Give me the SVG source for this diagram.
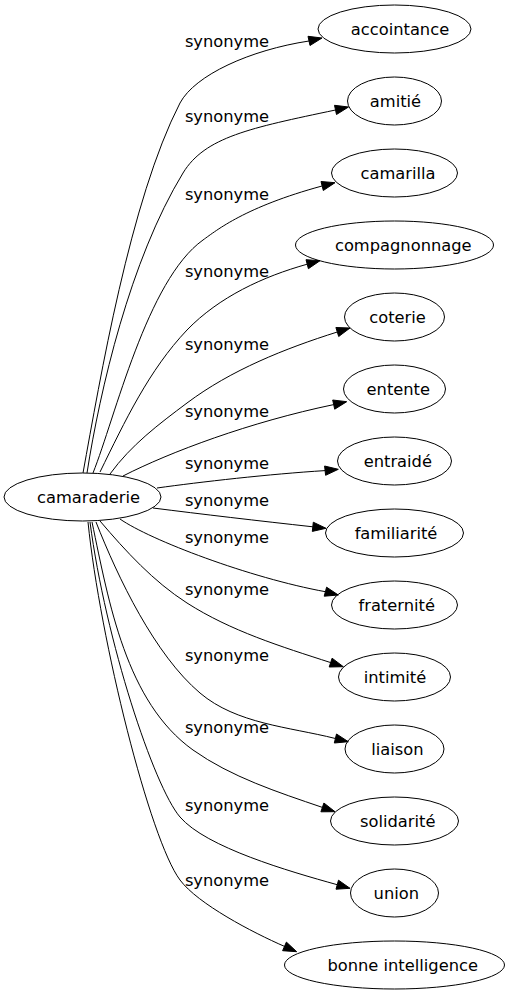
<svg xmlns="http://www.w3.org/2000/svg" width="510" height="995" viewBox="0 0 510 995">
<style>
.n ellipse{fill:none;stroke:#000;stroke-width:1}
text{font-family:"DejaVu Sans","Liberation Sans",sans-serif;font-size:16.3px;fill:#000;text-anchor:middle}
.e path{fill:none;stroke:#000;stroke-width:1}
.e polygon{fill:#000;stroke:#000;stroke-width:1}
</style>
<rect x="0" y="0" width="510" height="995" fill="#fff"/>
<g id="edges" class="e">
<path d="M83,473 C100,380 130,200 180,103 C195,75 250,50 309,41"/>
<polygon points="310,45.5 322,38 308,36.3"/>
<text x="227" y="46.7">synonyme</text>
<path d="M87,473 C100,390 130,260 183,173 C205,137 250,128 335.5,110"/>
<polygon points="336.5,114.5 348.5,107 334.5,105.3"/>
<text x="227" y="122.2">synonyme</text>
<path d="M93,473 C115,418 147,280 203,240 C217,230 245,207 322,186"/>
<polygon points="323.3,190.5 335,182.7 321,181.5"/>
<text x="227" y="199.5">synonyme</text>
<path d="M100,472 C125,421 149,370 187,330 C219,297 263,276.5 307.2,264.2"/>
<polygon points="308.4,268.7 320,260.7 306,259.7"/>
<text x="227" y="277">synonyme</text>
<path d="M110,474 C131,445 159,424 187,403 C231,370 285,348.5 337.3,332"/>
<polygon points="338.7,336.5 350,328 335.9,327.5"/>
<text x="227" y="350.3">synonyme</text>
<path d="M123,476 C170,452 250,422 333.7,404.6"/>
<polygon points="334.7,409.2 346.7,401.7 332.7,400"/>
<text x="227" y="417">synonyme</text>
<path d="M157,488 C200,482 270,474 325.1,470.6"/>
<polygon points="325.6,475.3 338.3,469.3 324.6,466"/>
<text x="227" y="468.8">synonyme</text>
<path d="M153,508 C200,514 260,521 312.8,526.8"/>
<polygon points="312.3,531.4 326,528.3 313.3,522.2"/>
<text x="227" y="505.8">synonyme</text>
<path d="M120,519 C150,540 250,578 325.4,591.7"/>
<polygon points="324.2,596.2 338.3,595 326.6,587.2"/>
<text x="227" y="543">synonyme</text>
<path d="M100,521 C126,551.5 153.3,581.4 187,603 C230.8,631 281.1,646.6 330.7,662.6"/>
<polygon points="329.2,667 343.3,666.7 332.1,658.2"/>
<text x="227" y="594.7">synonyme</text>
<path d="M96,522 C118,578 155,655 200,693 C236.6,724 288.9,726.8 335.4,738.5"/>
<polygon points="334.3,743 348.3,741.7 336.5,734"/>
<text x="227" y="661.3">synonyme</text>
<path d="M92,522 C109,603 126,702 193,750 C231,777 277.9,792.2 322.4,807.4"/>
<polygon points="320.9,811.8 335,811.7 323.9,803"/>
<text x="227" y="733">synonyme</text>
<path d="M90,522 C105.6,641 154,786.6 180,817 C206,847.4 289,871.3 337.2,884.7"/>
<polygon points="336,889.2 350,888.3 338.5,880.2"/>
<text x="227" y="811.3">synonyme</text>
<path d="M88,522 C100,640 150,840 180,880 C198,904 252.4,932.4 284.5,946.4"/>
<polygon points="282.6,950.7 296.7,951.7 286.4,942.1"/>
<text x="227" y="886.3">synonyme</text>
</g>
<g id="camaraderie" class="n"><ellipse cx="82.5" cy="497" rx="78.5" ry="24"/><text x="88.5" y="502.5">camaraderie</text></g>
<g id="accointance" class="n"><ellipse cx="394.5" cy="29" rx="76.5" ry="24"/><text x="400" y="34.5">accointance</text></g>
<g id="amitie" class="n"><ellipse cx="394.5" cy="101" rx="47" ry="24"/><text x="395.5" y="106.5">amitié</text></g>
<g id="camarilla" class="n"><ellipse cx="394.5" cy="173" rx="63" ry="24"/><text x="398" y="178.5">camarilla</text></g>
<g id="compagnonnage" class="n"><ellipse cx="394.5" cy="245" rx="99" ry="24"/><text x="403.3" y="250.5">compagnonnage</text></g>
<g id="coterie" class="n"><ellipse cx="394.5" cy="317" rx="50" ry="24"/><text x="397.5" y="322.5">coterie</text></g>
<g id="entente" class="n"><ellipse cx="394.5" cy="389" rx="51" ry="24"/><text x="398.3" y="394.5">entente</text></g>
<g id="entraide" class="n"><ellipse cx="394.5" cy="461" rx="57" ry="24"/><text x="397.8" y="466.5">entraidé</text></g>
<g id="familiarite" class="n"><ellipse cx="394.5" cy="533" rx="69" ry="24"/><text x="396" y="538.5">familiarité</text></g>
<g id="fraternite" class="n"><ellipse cx="394.5" cy="605" rx="63" ry="24"/><text x="396.7" y="610.5">fraternité</text></g>
<g id="intimite" class="n"><ellipse cx="394.5" cy="677" rx="56" ry="24"/><text x="395" y="682.5">intimité</text></g>
<g id="liaison" class="n"><ellipse cx="394.5" cy="749" rx="49.5" ry="24"/><text x="397.3" y="754.5">liaison</text></g>
<g id="solidarite" class="n"><ellipse cx="394.5" cy="821" rx="64" ry="24"/><text x="397.7" y="826.5">solidarité</text></g>
<g id="union" class="n"><ellipse cx="394.5" cy="893" rx="44" ry="24"/><text x="396.3" y="898.5">union</text></g>
<g id="bonne_intelligence" class="n"><ellipse cx="394.5" cy="965" rx="110" ry="24"/><text x="402.7" y="970.5">bonne intelligence</text></g>
</svg>
